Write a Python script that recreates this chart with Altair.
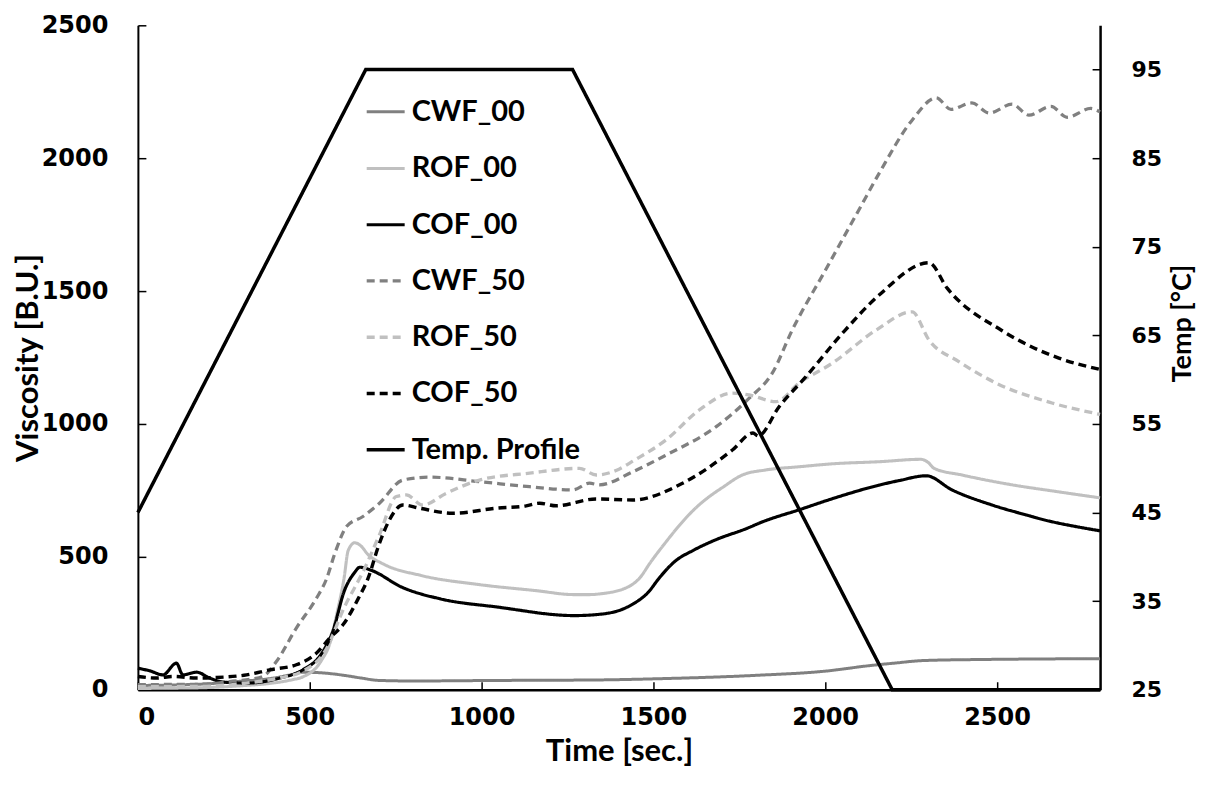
import altair as alt
import pandas as pd

SERIES = ["CWF_00", "ROF_00", "COF_00", "CWF_50", "ROF_50", "COF_50", "Temp. Profile"]
COLORS = ["#808080", "#c0c0c0", "#000000", "#808080", "#c0c0c0", "#000000", "#000000"]
DASHES = [[1, 0], [1, 0], [1, 0], [8, 5], [8, 5], [8, 5], [1, 0]]
WIDTHS = [3, 3.5, 3, 3.5, 3.5, 3.5, 4.5]

# Viscosity series (time [s], viscosity [B.U.])
cwf00_t = [0, 100, 212, 300, 379, 440, 480, 550, 601, 650, 702, 800, 1047, 1346, 1500, 1795, 2000, 2131, 2200, 2288, 2467, 2650, 2800]
cwf00_v = [16, 18, 23, 32, 41, 55, 66, 62, 54, 44, 35, 33, 35, 37, 41, 54, 70, 91, 100, 110, 114, 116, 117]

rof00_t = [0, 100, 200, 300, 379, 450, 479, 534, 560, 579, 600, 612, 631, 650, 668, 713, 824, 991, 1158, 1270, 1314, 1346, 1425, 1460, 1492, 1530, 1571, 1620, 1660, 1700, 1759, 1827, 1924, 2020, 2157, 2279, 2300, 2317, 2398, 2544, 2672, 2800]
rof00_v = [5, 6, 8, 15, 23, 38, 48, 110, 180, 286, 420, 524, 553, 540, 511, 474, 430, 396, 373, 358, 358, 361, 386, 420, 480, 545, 611, 680, 724, 760, 808, 827, 839, 850, 858, 867, 855, 833, 808, 771, 746, 722]

cof00_t = [0, 35, 73, 112, 131, 171, 209, 248, 316, 413, 480, 534, 568, 601, 630, 646, 680, 768, 880, 1047, 1270, 1336, 1414, 1450, 1481, 1520, 1560, 1620, 1683, 1770, 1818, 1924, 2019, 2157, 2215, 2294, 2369, 2486, 2584, 2651, 2738, 2800]
cof00_v = [81, 71, 56, 100, 56, 66, 44, 29, 25, 44, 75, 135, 223, 373, 440, 461, 449, 386, 342, 311, 279, 283, 305, 330, 361, 425, 480, 527, 565, 606, 632, 677, 718, 770, 787, 805, 752, 695, 658, 635, 612, 598]

cwf50_t = [0, 100, 200, 267, 330, 364, 403, 461, 520, 548, 575, 607, 655, 703, 771, 849, 994, 1140, 1265, 1314, 1343, 1440, 1537, 1683, 1779, 1846, 1904, 2000, 2100, 2157, 2253, 2323, 2366, 2427, 2477, 2544, 2593, 2657, 2704, 2773, 2800]
cwf50_v = [19, 20, 21, 31, 40, 50, 106, 232, 345, 414, 520, 614, 652, 702, 789, 800, 783, 764, 752, 777, 771, 820, 883, 990, 1097, 1191, 1353, 1577, 1810, 1943, 2143, 2227, 2184, 2208, 2170, 2203, 2162, 2195, 2154, 2187, 2174]

rof50_t = [0, 100, 200, 316, 413, 480, 546, 601, 657, 702, 752, 781, 829, 897, 994, 1140, 1285, 1334, 1400, 1440, 1537, 1634, 1730, 1779, 1857, 1924, 2021, 2148, 2253, 2302, 2390, 2497, 2660, 2800]
rof50_v = [12, 12, 13, 25, 45, 70, 148, 311, 449, 580, 727, 733, 695, 739, 789, 815, 833, 808, 830, 860, 940, 1053, 1116, 1109, 1084, 1154, 1229, 1353, 1422, 1316, 1234, 1154, 1079, 1036]

cof50_t = [0, 55, 102, 171, 229, 316, 384, 461, 520, 558, 600, 640, 670, 700, 732, 771, 820, 916, 1043, 1130, 1169, 1217, 1333, 1440, 1585, 1730, 1790, 1805, 1866, 1944, 2050, 2157, 2302, 2355, 2515, 2680, 2800]
cof50_v = [50, 44, 50, 44, 46, 56, 75, 94, 138, 194, 250, 340, 420, 540, 639, 695, 683, 664, 683, 692, 702, 692, 718, 714, 777, 902, 966, 955, 1065, 1178, 1341, 1485, 1607, 1511, 1351, 1248, 1205]

# Temperature profile (time [s], temp [°C])
temp_t = [0, 663, 1265, 2195, 2800]
temp_v = [45, 95, 95, 25, 25]

rows = []
for name, ts, vs in [("CWF_00", cwf00_t, cwf00_v), ("ROF_00", rof00_t, rof00_v),
                     ("COF_00", cof00_t, cof00_v), ("CWF_50", cwf50_t, cwf50_v),
                     ("ROF_50", rof50_t, rof50_v), ("COF_50", cof50_t, cof50_v)]:
    for t, v in zip(ts, vs):
        rows.append({"series": name, "t": t, "v": v})
visc = pd.DataFrame(rows)
temp = pd.DataFrame({"series": "Temp. Profile", "t": temp_t, "temp": temp_v})

PLOT_H = 665
TICK = 8

legend = alt.Legend(
    title=None, orient="none", legendX=227, legendY=66, padding=0,
    symbolType="stroke", symbolSize=1444, rowPadding=20.3, labelOffset=5, labelLimit=0,
    labelFont="Lato", labelFontSize=29, labelFontWeight="bold", labelColor="#000000",
)

color = alt.Color("series:N", scale=alt.Scale(domain=SERIES, range=COLORS), legend=legend)
dash = alt.StrokeDash("series:N", scale=alt.Scale(domain=SERIES, range=DASHES), legend=legend)
width = alt.StrokeWidth("series:O", scale=alt.Scale(domain=SERIES, range=WIDTHS), legend=legend)

x_enc = alt.X(
    "t:Q",
    scale=alt.Scale(domain=[0, 2800], nice=False, zero=False),
    axis=alt.Axis(
        title="Time [sec.]", values=[0, 500, 1000, 1500, 2000, 2500], format="d",
        ticks=False, labelPadding=16, grid=True, gridDash=[0, PLOT_H - TICK, TICK, 3000],
        gridColor="#000000", gridWidth=1.5, gridOpacity=1, domainColor="#000000", domainWidth=2.5,
        labelFont="DejaVu Sans", labelFontSize=24, labelFontWeight="bold", labelColor="#000000",
        titleFont="Lato", titleFontSize=31, titleFontWeight="bold", titleColor="#000000",
        titlePadding=7,
    ),
)

visc_layer = alt.Chart(visc).mark_line(interpolate="monotone").encode(
    x=x_enc,
    y=alt.Y(
        "v:Q",
        scale=alt.Scale(domain=[0, 2500], nice=False),
        axis=alt.Axis(
            title="Viscosity [B.U.]", values=[0, 500, 1000, 1500, 2000, 2500], format="d",
            ticks=False, labelPadding=30, grid=True, gridDash=[TICK, 3000], gridColor="#000000",
            gridWidth=1.5, gridOpacity=1, domainColor="#000000", domainWidth=2,
            labelFont="DejaVu Sans", labelFontSize=24, labelFontWeight="bold", labelColor="#000000",
            titleFont="Lato", titleFontSize=31, titleFontWeight="bold", titleColor="#000000",
            titlePadding=-3,
        ),
    ),
    color=color, strokeDash=dash, strokeWidth=width,
)

temp_layer = alt.Chart(temp).mark_line().encode(
    x=alt.X("t:Q", scale=alt.Scale(domain=[0, 2800], nice=False, zero=False)),
    y=alt.Y(
        "temp:Q",
        scale=alt.Scale(domain=[25, 100], nice=False, zero=False),
        axis=alt.Axis(
            orient="right", title="Temp [°C]", values=[25, 35, 45, 55, 65, 75, 85, 95],
            ticks=False, labelPadding=31, grid=True, gridDash=[TICK, 3000], gridColor="#000000",
            gridWidth=1.5, gridOpacity=1, domainColor="#000000", domainWidth=2.5,
            labelFont="DejaVu Sans", labelFontSize=22, labelFontWeight="bold", labelColor="#000000",
            titleFont="Lato", titleFontSize=27, titleFontWeight="bold", titleColor="#000000",
            titleAngle=270, titleBaseline="top", titleY=298, titlePadding=8,
        ),
    ),
    color=color, strokeDash=dash, strokeWidth=width,
)

chart = alt.layer(visc_layer, temp_layer).resolve_scale(y="independent").properties(
    width=963, height=PLOT_H,
    autosize=alt.AutoSizeParams(type="none"),
    padding={"left": 130, "top": 17, "right": 97, "bottom": 80},
    background="#ffffff",
).configure_view(stroke=None)

chart.save("out.html", embed_options={"renderer": "svg", "actions": False})
